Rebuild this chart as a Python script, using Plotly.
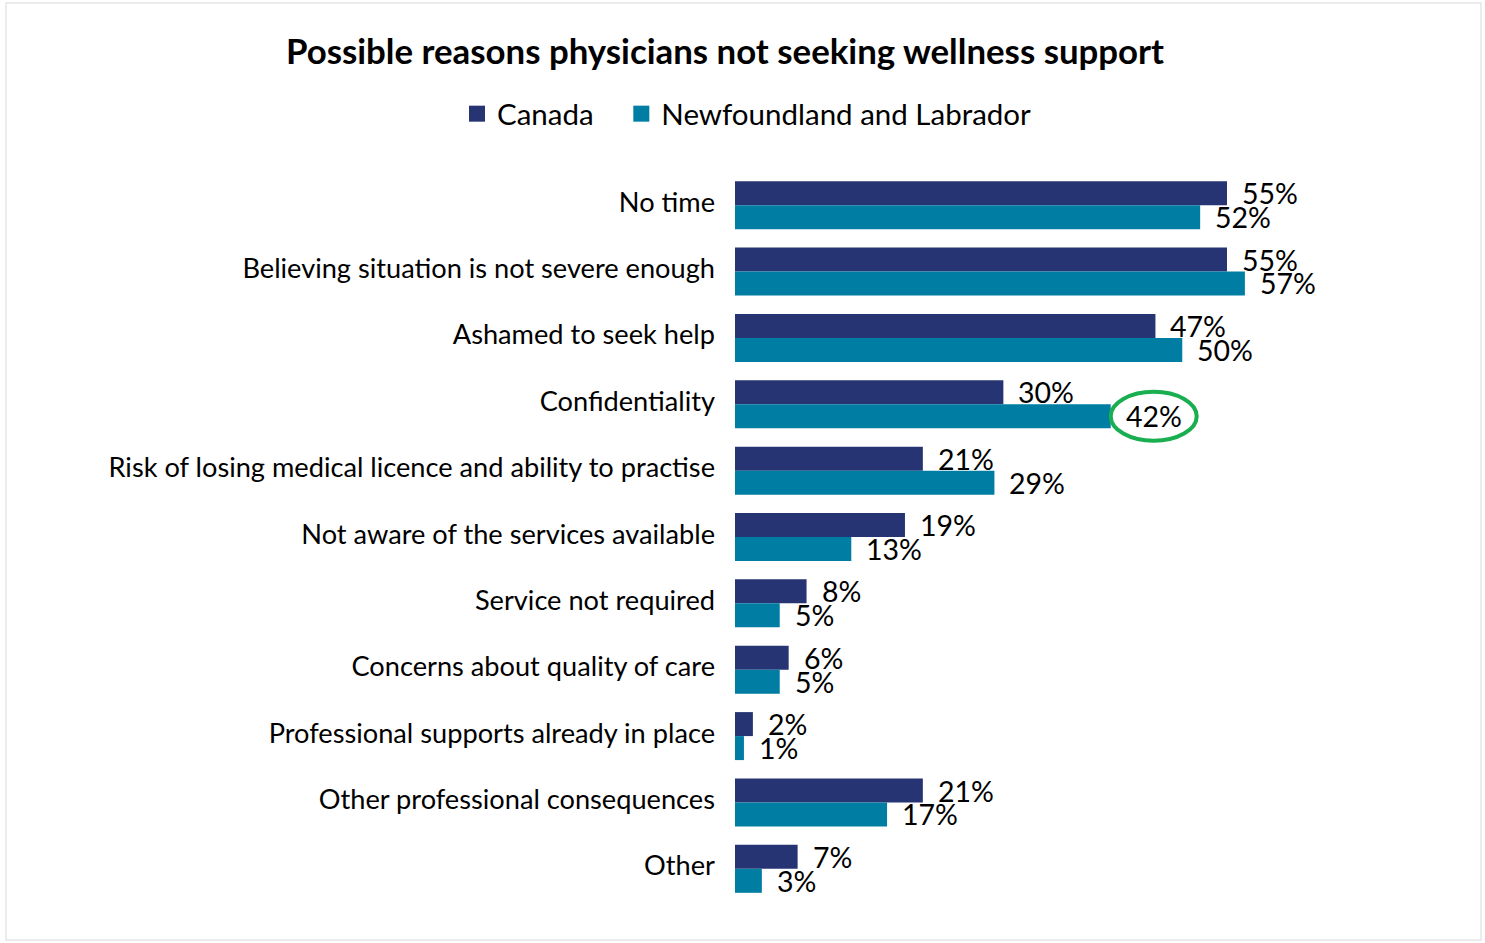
import plotly.graph_objects as go

categories = ["No time", "Believing situation is not severe enough", "Ashamed to seek help",
              "Confidentiality", "Risk of losing medical licence and ability to practise",
              "Not aware of the services available", "Service not required",
              "Concerns about quality of care", "Professional supports already in place",
              "Other professional consequences", "Other"]
canada = [55, 55, 47, 30, 21, 19, 8, 6, 2, 21, 7]
nl = [52, 57, 50, 42, 29, 13, 5, 5, 1, 17, 3]
series_names = ["Canada", "Newfoundland and Labrador"]
highlight_index = 3

NAVY = "#263473"
TEAL = "#007DA3"
FONT = "Lato"

W, H = 1485, 943
ML, MR, MT, MB = 735, 85, 172, 41
xmax = 74.34

fig = go.Figure()
for name, vals, col in [(series_names[0], canada, NAVY), (series_names[1], nl, TEAL)]:
    fig.add_trace(go.Bar(y=categories, x=vals, name=name, orientation="h",
                         marker=dict(color=col, line=dict(width=0)),
                         hoverinfo="x+y", showlegend=False))
# legend entries with larger square swatches
legend_labels = [series_names[0] + "\u00a0" * 3, series_names[1]]
for name, col in [(legend_labels[0], NAVY), (legend_labels[1], TEAL)]:
    fig.add_trace(go.Scatter(x=[None], y=[None], mode="markers", name=name,
                             marker=dict(symbol="square", size=18, color=col),
                             hoverinfo="skip"))

bw = 0.36
for i, c in enumerate(categories):
    for vals, off in [(canada, -bw / 2), (nl, bw / 2)]:
        fig.add_annotation(x=vals[i], y=i + off, xref="x", yref="y", text=f"{vals[i]}%",
                           showarrow=False, xanchor="left", yanchor="middle", xshift=13,
                           font=dict(family=FONT, size=28.5, color="black"))

# highlight ellipse around NL confidentiality label
fig.add_shape(type="circle", xref="x", yref="y", xsizemode="pixel", ysizemode="pixel",
              xanchor=nl[highlight_index], yanchor=highlight_index + bw / 2,
              x0=0, x1=86, y0=-24.5, y1=24.5,
              line=dict(color="#19AE4F", width=4))

pw = W - ML - MR
ph = H - MT - MB
def px(x):
    return (x - ML) / pw
def py(y):
    return (H - MB - y) / ph
fig.add_shape(type="rect", xref="paper", yref="paper", x0=px(6), x1=px(1481), y0=py(3), y1=py(940),
              line=dict(color="#E6E6E6", width=1.5), fillcolor="rgba(0,0,0,0)", layer="below")

fig.update_layout(
    width=W, height=H,
    margin=dict(l=ML, r=MR, t=MT, b=MB, autoexpand=False),
    paper_bgcolor="white", plot_bgcolor="white",
    barmode="group", bargap=0.277, bargroupgap=0,
    title=dict(text="<b>Possible reasons physicians not seeking wellness support</b>",
               xref="container", x=725 / W, xanchor="center",
               yref="container", y=1 - 52 / H, yanchor="middle",
               font=dict(family=FONT, size=34.8, color="black")),
    legend=dict(orientation="h", x=px(747), xanchor="center", y=py(114), yanchor="middle",
                font=dict(family=FONT, size=29.5, color="black"), itemwidth=30,
                traceorder="normal", bgcolor="rgba(0,0,0,0)"),
    xaxis=dict(range=[0, xmax], visible=False, fixedrange=True),
    yaxis=dict(categoryorder="array", categoryarray=categories, autorange="reversed",
               showgrid=False, showline=False, zeroline=False, ticks="",
               ticklabelstandoff=19, ticklabelshift=3,
               tickfont=dict(family=FONT, size=27.2, color="black")),
    showlegend=True,
)

fig.write_html("out.html")
